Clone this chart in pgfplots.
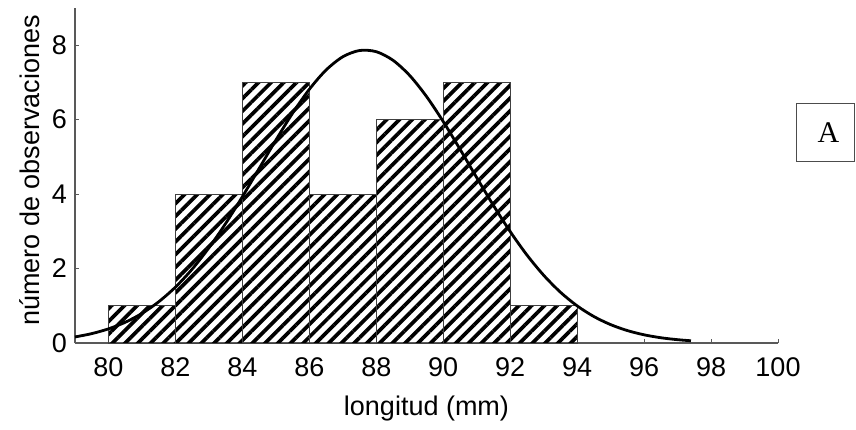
\documentclass[border=0pt]{standalone}
\usepackage{fontspec}
\setmainfont{Liberation Sans}
\newfontfamily\serifA{Liberation Serif}
\usepackage{pgfplots}
\pgfplotsset{compat=1.18}
\usetikzlibrary{patterns.meta}

\begin{document}
\fontsize{27bp}{32bp}\selectfont
\begin{tikzpicture}
\begin{axis}[
    scale only axis,
    width=703bp, height=335bp,
    xmin=79, xmax=100, ymin=0, ymax=9,
    axis x line*=bottom, axis y line*=left,
    axis line style={black!65, line width=1.2bp},
    xtick={80,82,...,100}, ytick={0,2,...,8},
    major tick length=4bp,
    tick style={black!65, line width=1bp},
    /pgf/number format/assume math mode=true,
    ticklabel style={font=\fontsize{27bp}{32bp}\selectfont},
    xticklabel style={anchor=north, inner sep=0pt, yshift=-14bp},
    yticklabel style={anchor=east, inner sep=0pt, xshift=-8bp},
    xlabel={longitud (mm)},
    ylabel={número de observaciones},
    label style={font=\fontsize{27bp}{32bp}\selectfont, inner sep=0pt},
    xlabel style={at={(axis description cs:0.5,-0.215)}, anchor=base},
    ylabel style={at={(axis description cs:-0.05,0.515)}, anchor=base},
    clip=false,
]
\coordinate (o) at (axis cs:79,0);

% histogram
\addplot[ybar interval, draw=black!75, line width=1bp,
    pattern={Lines[angle=45, distance=9bp, line width=3.7bp]}]
    coordinates {(80,1) (82,4) (84,7) (86,4) (88,6) (90,7) (92,1) (94,1)};

% fitted normal curve
\addplot[black, line width=2.8bp, smooth] coordinates {
    (79,0.163) (79.5,0.252) (80,0.380) (80.5,0.556) (81,0.795) (81.5,1.107)
    (82,1.501) (82.5,1.984) (83,2.557) (83.5,3.211) (84,3.930) (84.5,4.688)
    (85,5.450) (85.5,6.174) (86,6.816) (86.5,7.334) (87,7.690) (87.5,7.858)
    (88,7.826) (88.5,7.595) (89,7.185) (89.5,6.623) (90,5.949) (90.5,5.208)
    (91,4.443) (91.5,3.695) (92,2.994) (92.5,2.364) (93,1.820) (93.5,1.365)
    (94,0.998) (94.5,0.711) (95,0.494) (95.5,0.334) (96,0.220) (96.5,0.141)
    (97,0.089) (97.4,0.060)
};

\node[draw=black!70, line width=1.3bp, minimum width=58bp, minimum height=58bp,
    inner sep=0pt] at (axis cs:101.42,5.66) {};
\node[inner sep=0pt, font=\serifA\fontsize{30bp}{36bp}\selectfont,
    xshift=3bp] at (axis cs:101.42,5.66) {A};
\end{axis}
\pgfresetboundingbox
\path[use as bounding box] (o) ++(-75bp,-87bp) rectangle ++(856bp,430bp);
\end{tikzpicture}
\end{document}
